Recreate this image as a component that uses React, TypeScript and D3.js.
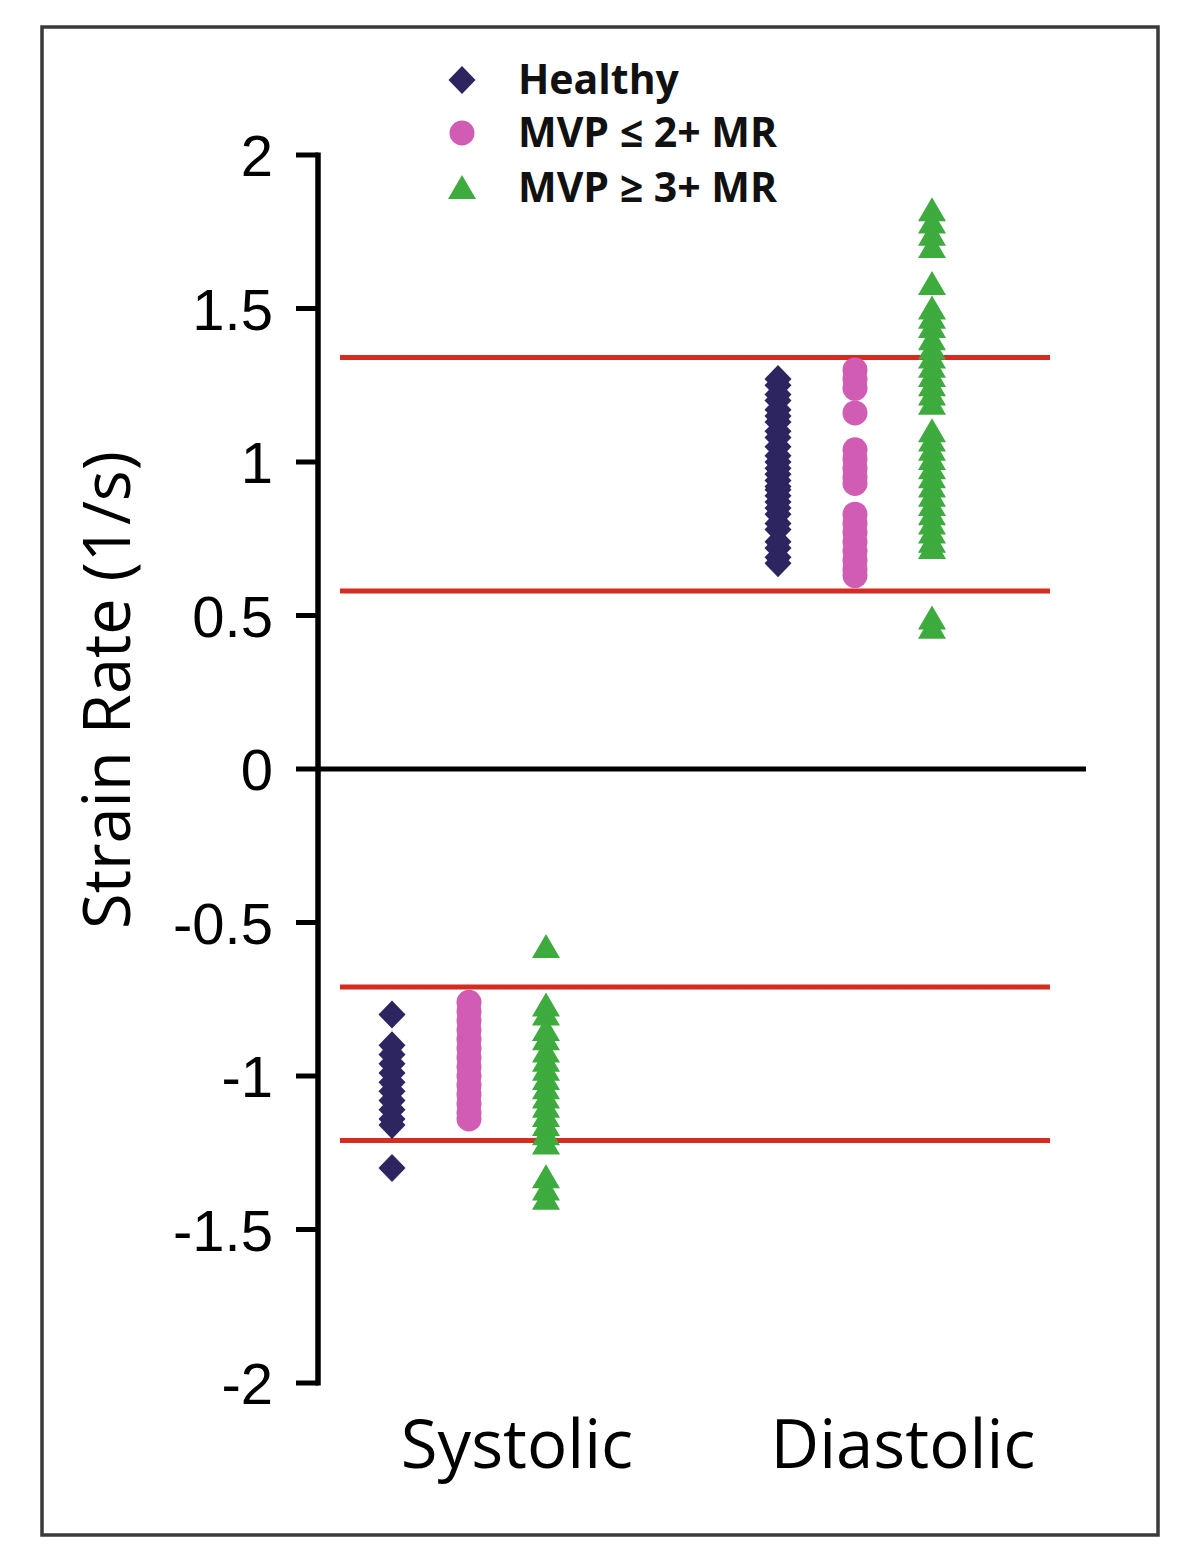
import React from "react";
import * as d3 from "d3";

const categories = ["Systolic", "Diastolic"];
const groups = ["Healthy", "MVP ≤ 2+ MR", "MVP ≥ 3+ MR"];
const yTicks = [2, 1.5, 1, 0.5, 0, -0.5, -1, -1.5, -2];

const healthySystolic = [-0.80, -0.90, -0.93, -0.96, -0.99, -1.02, -1.05, -1.08, -1.11, -1.14, -1.16, -1.30];
const mildSystolic = [-0.76, -0.79, -0.82, -0.85, -0.88, -0.91, -0.94, -0.97, -1.00, -1.03, -1.06, -1.09, -1.12, -1.14];
const severeSystolic = [-0.58, -0.77, -0.80, -0.85, -0.88, -0.92, -0.95, -0.98, -1.01, -1.04, -1.07, -1.10, -1.13, -1.16, -1.19, -1.22, -1.33, -1.37, -1.40];

const healthyDiastolic = [1.27, 1.25, 1.22, 1.20, 1.17, 1.15, 1.13, 1.10, 1.08, 1.05, 1.02, 1.00, 0.98, 0.96, 0.94, 0.92, 0.91, 0.89, 0.87, 0.85, 0.83, 0.80, 0.78, 0.74, 0.72, 0.69, 0.67];
const mildDiastolic = [1.30, 1.27, 1.24, 1.16, 1.04, 1.01, 0.98, 0.95, 0.93, 0.83, 0.80, 0.77, 0.74, 0.71, 0.68, 0.65, 0.63];
const severeDiastolic = [1.82, 1.78, 1.74, 1.70, 1.58, 1.50, 1.47, 1.44, 1.40, 1.37, 1.34, 1.31, 1.28, 1.25, 1.22, 1.19, 1.10, 1.07, 1.04, 1.01, 0.98, 0.95, 0.92, 0.89, 0.86, 0.83, 0.80, 0.77, 0.74, 0.72, 0.49, 0.46];

const systolicLimits = [-0.71, -1.21];
const diastolicLimits = [1.34, 0.58];

const colors = ["#2d2560", "#d05cb4", "#3dab3d"];

const seriesTable = [
  { cat: "Systolic", values: [healthySystolic, mildSystolic, severeSystolic] },
  { cat: "Diastolic", values: [healthyDiastolic, mildDiastolic, severeDiastolic] },
];

export default function App() {
  const W = 1200, H = 1545;
  const axisX = 318;
  const y = d3.scaleLinear().domain([-2, 2]).range([1383, 155]);
  const xCat = d3.scalePoint().domain(categories).range([469, 855]);
  const xGrp = d3.scalePoint().domain(groups).range([-77, 77]);

  const circlePath = d3.symbol().type(d3.symbolCircle).size(Math.PI * 12.5 * 12.5)() as string;
  const markerPath = (i: number) =>
    i === 0 ? "M0,-14L13.5,0L0,14L-13.5,0Z" : i === 2 ? "M0,-13L14,11L-14,11Z" : circlePath;

  const legendY = [80, 133, 188];

  return (
    <svg width={W} height={H} style={{ position: "absolute", left: 0, top: 0, background: "#fff" }}>
      <rect x={42} y={27} width={1116} height={1508} fill="#fff" stroke="#3a3a3a" strokeWidth={3.5} />
      {/* red limit lines */}
      {[...systolicLimits, ...diastolicLimits].map((v, i) => (
        <line key={"r" + i} x1={340} x2={1050} y1={y(v)} y2={y(v)} stroke="#d62b20" strokeWidth={5} />
      ))}
      {/* axis */}
      <line x1={axisX} x2={axisX} y1={y(2) - 2.5} y2={y(-2) + 2.5} stroke="#000" strokeWidth={5.5} />
      <line x1={axisX} x2={1086} y1={y(0)} y2={y(0)} stroke="#000" strokeWidth={5} />
      {yTicks.map((t) => (
        <g key={t}>
          <line x1={axisX - 22} x2={axisX} y1={y(t)} y2={y(t)} stroke="#000" strokeWidth={5} />
          <text x={273} y={y(t) + 21} textAnchor="end" fontFamily="Liberation Sans, Arial, sans-serif" fontSize={58} fill="#000">
            {t}
          </text>
        </g>
      ))}
      <text
        transform={`translate(130,690) rotate(-90)`}
        textAnchor="middle"
        fontFamily="Open Sans, sans-serif"
        fontSize={65}
        fill="#000"
      >
        Strain Rate (1/s)
      </text>
      {categories.map((c) => (
        <text key={c} x={(xCat(c) as number) + 48} y={1468} textAnchor="middle" fontFamily="Open Sans, sans-serif" fontSize={67} fill="#000">
          {c}
        </text>
      ))}
      {/* points */}
      {seriesTable.map((s) =>
        s.values.map((vals, gi) =>
          vals.map((v, k) => (
            <path
              key={s.cat + gi + "-" + k}
              d={markerPath(gi)}
              transform={`translate(${(xCat(s.cat) as number) + (xGrp(groups[gi]) as number)},${y(v)})`}
              fill={colors[gi]}
            />
          ))
        )
      )}
      {/* legend */}
      {groups.map((g, i) => (
        <g key={g} transform={`translate(462,${legendY[i]})`}>
          <path d={markerPath(i)} fill={colors[i]} />
          <text x={56} y={14} fontFamily="Open Sans, sans-serif" fontWeight="bold" fontSize={41} fill="#111">
            {g}
          </text>
        </g>
      ))}
    </svg>
  );
}
